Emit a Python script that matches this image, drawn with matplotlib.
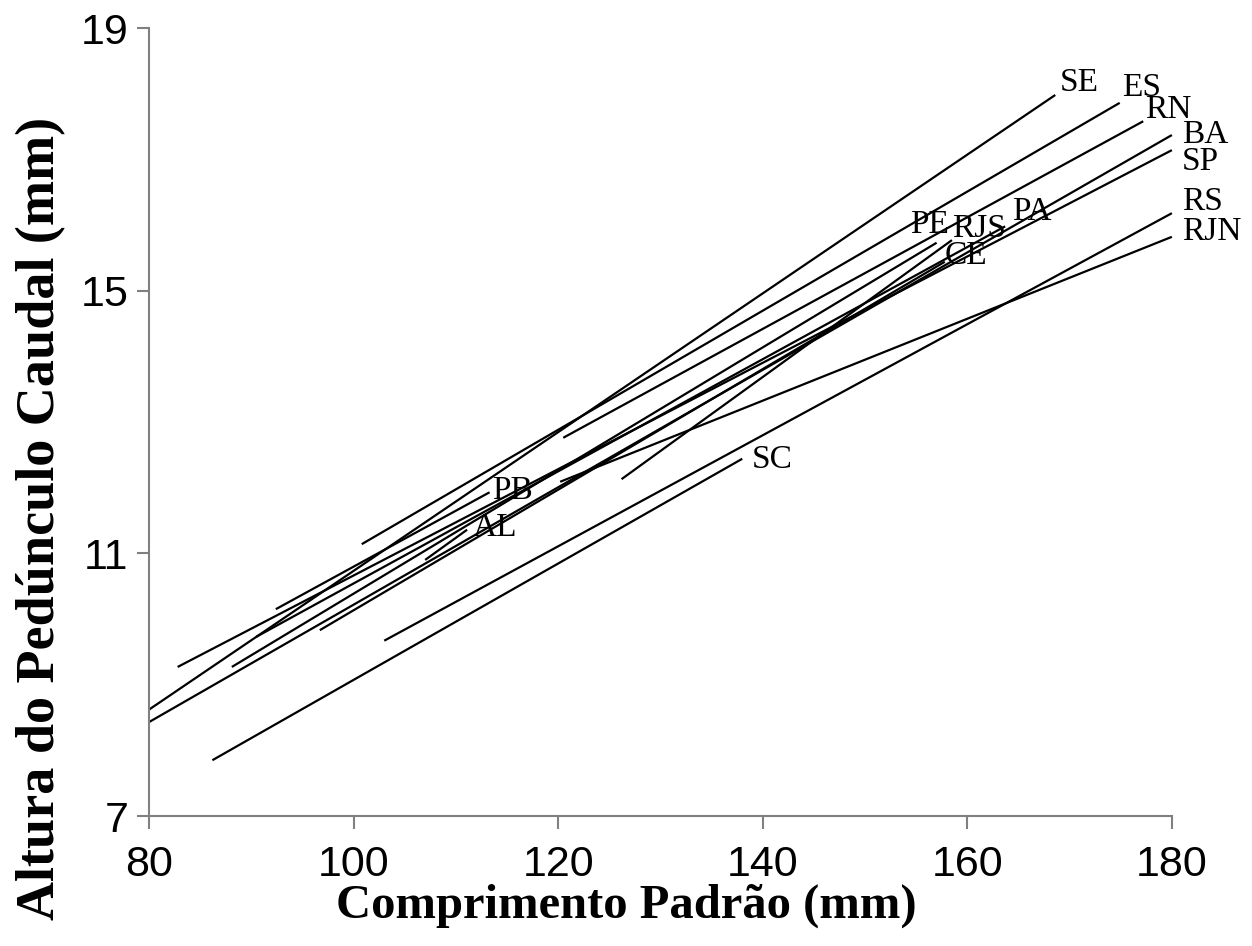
import matplotlib
matplotlib.use("Agg")
import matplotlib.pyplot as plt

# Regression segments per population: start/end of standard length and caudal peduncle height
labels = ["SE", "ES", "RN", "BA", "SP", "RS", "RJN", "SC", "PE", "RJS", "PA", "CE", "PB", "AL"]
x_start = [80.0, 100.8, 120.5, 80.0, 82.8, 103.0, 120.2, 86.2, 88.1, 126.2, 90.5, 96.7, 92.4, 107.0]
y_start = [8.62, 11.14, 12.76, 8.43, 9.27, 9.67, 12.09, 7.85, 9.27, 12.13, 9.73, 9.83, 10.15, 10.90]
x_end = [168.6, 174.9, 177.2, 180.0, 180.0, 180.0, 180.0, 138.0, 157.0, 158.5, 163.7, 157.8, 113.3, 111.1]
y_end = [17.98, 17.86, 17.58, 17.37, 17.14, 16.18, 15.82, 12.44, 15.73, 15.77, 15.98, 15.44, 11.93, 11.36]

# where the population names sit (data coords, left edge / centre of text)
label_x = [169.0, 175.1, 177.4, 181.0, 181.0, 181.0, 181.0, 138.9, 154.4, 158.5, 164.4, 157.8, 113.5, 111.6]
label_y = [18.16, 18.09, 17.75, 17.37, 16.96, 16.35, 15.90, 12.42, 16.0, 15.95, 16.2, 15.53, 11.96, 11.39]

x_ticks = [80, 100, 120, 140, 160, 180]
y_ticks = [7, 11, 15, 19]

fig = plt.figure(figsize=(12.52, 9.46), dpi=100)
ax = fig.add_axes([0.119, 0.1374, 0.817, 0.833])

for i in range(len(labels)):
    ax.plot([x_start[i], x_end[i]], [y_start[i], y_end[i]], color="black", lw=1.6,
            solid_capstyle="butt", clip_on=False)
    ax.text(label_x[i], label_y[i], labels[i], fontsize=24, family="Liberation Serif",
            ha="left", va="center", clip_on=False)

ax.set_xlim(80, 180)
ax.set_ylim(7, 19)
ax.set_xticks(x_ticks)
ax.set_yticks(y_ticks)
for s in ["top", "right"]:
    ax.spines[s].set_visible(False)
for s in ["left", "bottom"]:
    ax.spines[s].set_color("#808080")
    ax.spines[s].set_linewidth(1.5)
ax.tick_params(direction="out", length=9, width=1.5, color="#808080", labelsize=31)
ax.tick_params(axis="x", pad=12)
ax.tick_params(axis="y", pad=6)
for lab in ax.get_xticklabels() + ax.get_yticklabels():
    lab.set_family("Liberation Sans")

fig.text(0.5, 0.043, "Comprimento Padrão (mm)", ha="center", va="center",
         fontsize=35, fontweight="bold", family="Liberation Serif")
fig.text(0.033, 0.452, "Altura do Pedúnculo Caudal (mm)", ha="center", va="center",
         rotation=90, fontsize=39, fontweight="bold", family="Liberation Serif")

fig.savefig("out.png", dpi=100)
